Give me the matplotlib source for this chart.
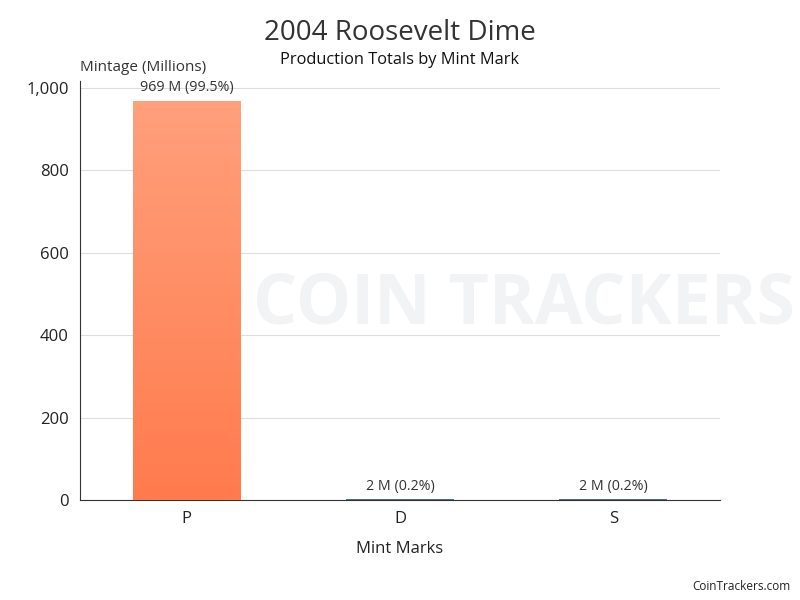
import matplotlib
matplotlib.use("Agg")
import matplotlib.pyplot as plt
import numpy as np
from matplotlib.colors import LinearSegmentedColormap

categories = ["P", "D", "S"]
values = [969, 2, 2]
labels = ["969 M (99.5%)", "2 M (0.2%)", "2 M (0.2%)"]
yticks = [0, 200, 400, 600, 800, 1000]
ytick_labels = ["0", "200", "400", "600", "800", "1,000"]

plt.rcParams['font.family'] = ['Open Sans', 'DejaVu Sans']

fig = plt.figure(figsize=(8, 6), dpi=100)
ax = fig.add_axes([0.1, 1 - 500/600, 0.8, (500 - 81)/600])

# faint watermark
fig.text(0.655, 0.49, "COIN TRACKERS", fontsize=50, fontweight='bold', color='#f1f3f5',
         ha='center', va='center', zorder=0)

x = np.arange(len(categories))
colors = ['#FF8C5A', '#4a7585', '#4a7585']
bars = ax.bar(x, values, width=0.505, color=colors, zorder=2)

cmap = LinearSegmentedColormap.from_list('g', ['#FF7B4D', '#FFA07C'])
b = bars[0]
grad = np.linspace(0, 1, 256).reshape(-1, 1)
im = ax.imshow(grad, cmap=cmap, origin='lower', aspect='auto',
               extent=[b.get_x(), b.get_x() + b.get_width(), 0, b.get_height()], zorder=3)
im.set_clip_path(b)

for xi, v, lab in zip(x, values, labels):
    ax.annotate(lab, (xi, v), xytext=(0, 4), textcoords='offset points',
                ha='center', va='bottom', fontsize=10.3, color='#333333', zorder=4)

ax.set_xlim(-0.5, 2.5)
ax.set_ylim(0, 1017)
ax.set_yticks(yticks)
ax.set_yticklabels(ytick_labels, fontsize=12, color='#222222')
ax.set_xticks(x)
ax.set_xticklabels(categories, fontsize=12, color='#222222')
ax.tick_params(axis='both', length=0, pad=8)
ax.yaxis.grid(True, color='#dddddd', linewidth=0.8, zorder=0)
ax.set_axisbelow(True)
for s in ['top', 'right']:
    ax.spines[s].set_visible(False)
ax.spines['left'].set_color('#333333')
ax.spines['bottom'].set_color('#333333')
ax.patch.set_alpha(0)

ax.set_xlabel("Mint Marks", fontsize=12, color='#222222', labelpad=10)
fig.text(0.1, 1 - 75/600, "Mintage (Millions)", fontsize=11, color='#333333', ha='left', va='bottom')

fig.text(0.5, 1 - 33/600, "2004 Roosevelt Dime", fontsize=20, color='#333333', ha='center', va='center')
fig.text(0.5, 1 - 59.5/600, "Production Totals by Mint Mark", fontsize=11.8, color='#111111', ha='center', va='center')
fig.text(0.988, 0.022, "CoinTrackers.com", fontsize=8.5, color='#222222', ha='right', va='center')

fig.savefig("out.png", dpi=100)
